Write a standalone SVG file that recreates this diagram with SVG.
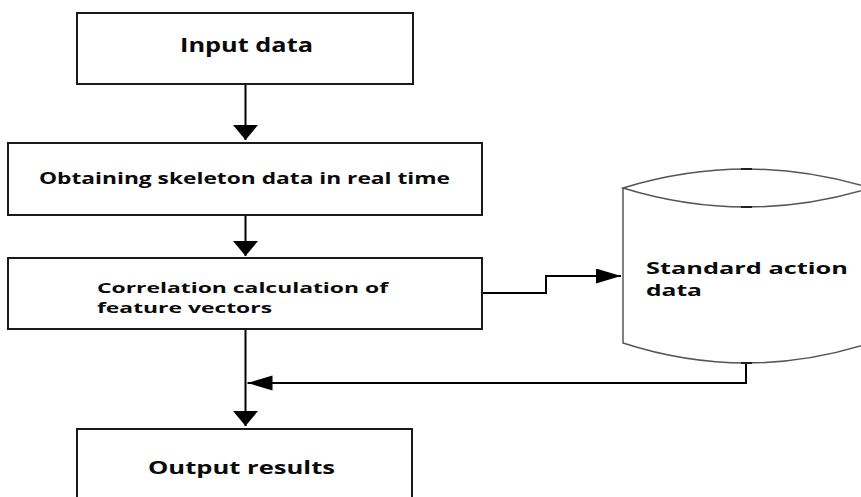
<svg xmlns="http://www.w3.org/2000/svg" width="861" height="497" viewBox="0 0 861 497">
  <style>
    .box { fill: #ffffff; stroke: #1a1a1a; stroke-width: 2; }
    .cyl { fill: #ffffff; stroke: #555555; stroke-width: 1.5; }
    .lbl { font-family: "Open Sans", "DejaVu Sans", sans-serif; font-weight: 700; fill: #0a0a0a; }
    .conn { fill: none; stroke: #000000; stroke-width: 2; }
  </style>
  <defs>
    <marker id="arrV" markerUnits="userSpaceOnUse" markerWidth="16" markerHeight="26" refX="15" refY="12.5" orient="auto">
      <path d="M0,0 L15,12.5 L0,25 Z" fill="#000"/>
    </marker>
    <marker id="arrH" markerUnits="userSpaceOnUse" markerWidth="26" markerHeight="16" refX="25" refY="7.5" orient="auto">
      <path d="M0,0 L25,7.5 L0,15 Z" fill="#000"/>
    </marker>
  </defs>
  <rect width="861" height="497" fill="#ffffff"/>

  <g id="connectors">
    <path class="conn" d="M245.5,84 V140" marker-end="url(#arrV)"/>
    <path class="conn" d="M245.5,215 V256" marker-end="url(#arrV)"/>
    <path class="conn" d="M245.5,329 V426" marker-end="url(#arrV)"/>
    <path class="conn" d="M482,293 H546 V276 H621" marker-end="url(#arrH)"/>
    <path class="conn" d="M746,363 V383 H247.5" marker-end="url(#arrH)"/>
  </g>

  <g id="input-data">
    <rect class="box" x="77" y="13" width="336" height="71"/>
    <text class="lbl" x="180" y="52" font-size="19" textLength="133" lengthAdjust="spacingAndGlyphs">Input data</text>
  </g>

  <g id="skeleton">
    <rect class="box" x="8" y="143" width="474" height="72"/>
    <text class="lbl" x="39" y="184" font-size="16.5" textLength="411" lengthAdjust="spacingAndGlyphs">Obtaining skeleton data in real time</text>
  </g>

  <g id="correlation">
    <rect class="box" x="8" y="258" width="474" height="71"/>
    <text class="lbl" x="97" y="293" font-size="14.5" textLength="291" lengthAdjust="spacingAndGlyphs">Correlation calculation of</text>
    <text class="lbl" x="97" y="313" font-size="14.5" textLength="175" lengthAdjust="spacingAndGlyphs">feature vectors</text>
  </g>

  <g id="standard-action">
    <path class="cyl" d="M623,188 V343 Q746.5,383 870,343 V188 Q746.5,226 623,188 Q746.5,150 870,188"/>
    <path d="M741,169 H752 M741,207 H752 M741,363 H752" stroke="#222" stroke-width="2"/>
    <text class="lbl" x="646" y="274" font-size="16" textLength="202" lengthAdjust="spacingAndGlyphs">Standard action</text>
    <text class="lbl" x="646" y="296" font-size="16" textLength="56" lengthAdjust="spacingAndGlyphs">data</text>
  </g>

  <g id="output-results">
    <rect class="box" x="77" y="429" width="335" height="80"/>
    <text class="lbl" x="148" y="474" font-size="17" textLength="187" lengthAdjust="spacingAndGlyphs">Output results</text>
  </g>
</svg>
